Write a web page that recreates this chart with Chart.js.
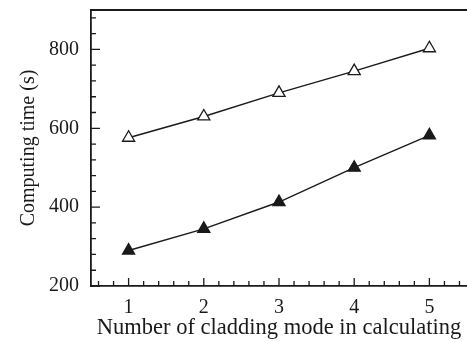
<!DOCTYPE html>
<html>
<head>
<meta charset="utf-8">
<script src="https://cdn.jsdelivr.net/npm/chart.js@4/dist/chart.umd.min.js"></script>
<style>
  html, body { margin: 0; padding: 0; background: #fff; overflow: hidden; }
  #wrap { width: 467px; height: 342px; position: relative; }
</style>
</head>
<body>
<div id="wrap"><canvas id="chart"></canvas></div>
<script>
// values
var modes = [1, 2, 3, 4, 5];
var openTimes = [576, 630, 690, 745, 803];
var filledTimes = [290, 345, 413, 500, 582];

var yTicks = [200, 240, 280, 320, 360, 400, 440, 480, 520, 560, 600, 640, 680, 720, 760, 800, 840, 880];
var yLabels = [200, 400, 600, 800];
var xTicks = [0.6, 0.8, 1, 1.2, 1.4, 1.6, 1.8, 2, 2.2, 2.4, 2.6, 2.8, 3, 3.2, 3.4, 3.6, 3.8, 4, 4.2, 4.4, 4.6, 4.8, 5, 5.2, 5.4];
var xLabels = [1, 2, 3, 4, 5];

var serif = "'Liberation Serif', 'DejaVu Serif', serif";
var ink = '#1a1a1a';

function pts(vals) {
	var out = [];
	for (var i in modes) {
		out.push({x: modes[i], y: vals[i]});
	}
	return out;
}

// draws the inward tick marks and the top frame line
var innerTicks = {
	id: 'innerTicks',
	afterDraw: function(chart) {
		var ctx = chart.ctx;
		var a = chart.chartArea;
		var xs = chart.scales.x;
		var ys = chart.scales.y;
		ctx.save();
		ctx.strokeStyle = ink;
		ctx.lineWidth = 1.3;
		ctx.beginPath();
		xs.ticks.forEach(function(t) {
			var px = xs.getPixelForValue(t.value);
			var len = xLabels.indexOf(t.value) >= 0 ? 8 : 5;
			ctx.moveTo(px, a.bottom);
			ctx.lineTo(px, a.bottom - len);
		});
		ys.ticks.forEach(function(t) {
			var py = ys.getPixelForValue(t.value);
			var len = yLabels.indexOf(t.value) >= 0 ? 9 : 5;
			ctx.moveTo(a.left, py);
			ctx.lineTo(a.left + len, py);
		});
		ctx.stroke();
		ctx.lineWidth = 1.8;
		ctx.beginPath();
		ctx.moveTo(a.left, a.top);
		ctx.lineTo(a.right, a.top);
		ctx.stroke();
		ctx.restore();
	}
};

var ctx = document.getElementById('chart').getContext('2d');

var chart = new Chart(ctx, {
	type: 'line',
	data: {
		datasets: [
			{
				label: 'open',
				data: pts(openTimes),
				borderColor: ink,
				borderWidth: 1.4,
				pointStyle: 'triangle',
				pointRadius: 7,
				pointBorderWidth: 1.3,
				pointBorderColor: ink,
				pointBackgroundColor: '#fff',
				fill: false
			},
			{
				label: 'filled',
				data: pts(filledTimes),
				borderColor: ink,
				borderWidth: 1.4,
				pointStyle: 'triangle',
				pointRadius: 7,
				pointBorderWidth: 1.3,
				pointBorderColor: ink,
				pointBackgroundColor: ink,
				fill: false
			}
		]
	},
	options: {
		responsive: true,
		maintainAspectRatio: false,
		animation: false,
		layout: { autoPadding: false, padding: { top: 10, right: 0, left: 0, bottom: 0 } },
		plugins: {
			legend: { display: false },
			tooltip: { enabled: false }
		},
		scales: {
			x: {
				type: 'linear',
				min: 0.5,
				max: 5.5,
				afterBuildTicks: function(scale) {
					scale.ticks = xTicks.map(function(v) { return {value: v}; });
				},
				afterFit: function(scale) {
					scale.height = 56;
					scale.paddingLeft = 0;
					scale.paddingRight = 0;
				},
				grid: { drawOnChartArea: false, drawTicks: false },
				border: { display: true, color: ink, width: 1.8 },
				ticks: {
					autoSkip: false,
					maxRotation: 0,
					padding: 10,
					color: ink,
					font: { family: serif, size: 20 },
					callback: function(v) { return xLabels.indexOf(v) >= 0 ? String(v) : ''; }
				},
				title: {
					display: true,
					text: 'Number of cladding mode in calculating',
					color: ink,
					font: { family: serif, size: 22.5 },
					padding: { top: 0, bottom: 0 }
				}
			},
			y: {
				min: 200,
				max: 900,
				afterBuildTicks: function(scale) {
					scale.ticks = yTicks.map(function(v) { return {value: v}; });
				},
				afterFit: function(scale) {
					scale.width = 91;
					scale.paddingTop = 0;
					scale.paddingBottom = 0;
				},
				grid: { drawOnChartArea: false, drawTicks: false },
				border: { display: true, color: ink, width: 1.8 },
				ticks: {
					autoSkip: false,
					padding: 12,
					color: ink,
					font: { family: serif, size: 20 },
					callback: function(v) { return yLabels.indexOf(v) >= 0 ? String(v) : ''; }
				},
				title: {
					display: true,
					text: 'Computing time (s)',
					color: ink,
					font: { family: serif, size: 20 },
					padding: { top: 17, bottom: 0 }
				}
			}
		}
	},
	plugins: [innerTicks]
});
</script>
</body>
</html>
